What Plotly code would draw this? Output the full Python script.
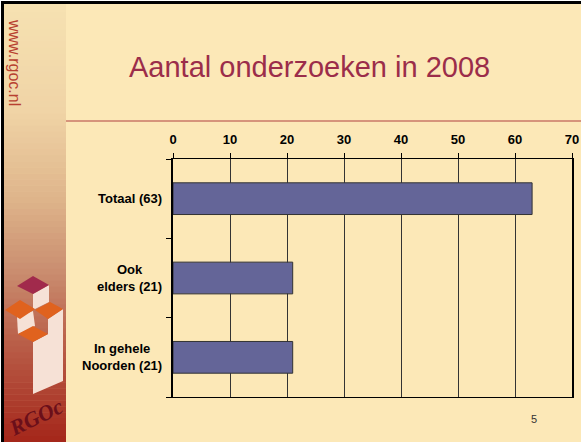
import plotly.graph_objects as go

# ---- data ----
categories = ["Totaal (63)", "Ook elders (21)", "In gehele Noorden (21)"]
labels = ["Totaal (63)", "Ook<br>elders (21)", "In gehele<br>Noorden (21)"]
values = [63, 21, 21]
x_ticks = [0, 10, 20, 30, 40, 50, 60, 70]
title_text = "Aantal onderzoeken in 2008"

W, H = 581, 442
L, R, T, B = 173, 572, 159, 397


def px(x):
    return (x - L) / (R - L)


def py(y):
    return (B - y) / (B - T)


def path(points):
    s = "M " + " L ".join(f"{px(a):.5f},{py(b):.5f}" for a, b in points) + " Z"
    return s


fig = go.Figure()
fig.add_trace(go.Bar(
    y=categories, x=values, orientation="h", width=0.4,
    marker=dict(color="#646598", line=dict(color="#333333", width=1)),
    hoverinfo="x+y",
))

shapes = []
stops = [(0, (246, 226, 178)), (110, (240, 212, 166)), (200, (222, 180, 138)),
         (270, (202, 142, 112)), (340, (186, 96, 74)), (442, (164, 38, 26))]


def col_at(y):
    for (y0, c0), (y1, c1) in zip(stops[:-1], stops[1:]):
        if y0 <= y <= y1:
            t = (y - y0) / (y1 - y0)
            return "rgb(%d,%d,%d)" % tuple(round(a + (b - a) * t) for a, b in zip(c0, c1))
    return "rgb(%d,%d,%d)" % stops[-1][1]


n = 74
step = H / n
for i in range(n):
    y0 = i * step
    y1 = (i + 1) * step + 0.6
    shapes.append(dict(type="rect", xref="paper", yref="paper",
                       x0=px(4), x1=px(66), y0=py(y0), y1=py(min(y1, H)),
                       fillcolor=col_at(y0 + step / 2), line=dict(width=0), layer="above"))
# frame
shapes.append(dict(type="rect", xref="paper", yref="paper", x0=px(0), x1=px(1), y0=py(0), y1=py(H),
                   fillcolor="white", line=dict(width=0)))
shapes.append(dict(type="rect", xref="paper", yref="paper", x0=px(0), x1=px(W), y0=py(0), y1=py(1),
                   fillcolor="white", line=dict(width=0)))
shapes.append(dict(type="rect", xref="paper", yref="paper", x0=px(1), x1=px(4), y0=py(1), y1=py(H),
                   fillcolor="black", line=dict(width=0)))
shapes.append(dict(type="rect", xref="paper", yref="paper", x0=px(1), x1=px(W), y0=py(1), y1=py(4),
                   fillcolor="black", line=dict(width=0)))
# red rule under title
shapes.append(dict(type="line", xref="paper", yref="paper", x0=px(66), x1=px(W), y0=py(121), y1=py(121),
                   line=dict(color="#b04040", width=1)))

# logo
pale = "#f6e1d6"
orange = "#e0621e"
maroon = "#a12a4c"
logo = [
    ([(33, 294), (49, 285), (49, 302), (35, 309), (33, 309)], pale),
    ([(17, 317), (33, 311), (35, 326), (18, 334)], pale),
    ([(33, 342), (48, 334), (48, 319), (63, 309), (63, 381), (33, 394)], pale),
    ([(17, 286), (33, 276), (49, 285), (33, 294)], maroon),
    ([(5, 310), (20, 300), (35, 309), (20, 319)], orange),
    ([(35, 310), (50, 302), (63, 309), (48, 319)], orange),
    ([(18, 334), (33, 326), (48, 334), (33, 342)], orange),
]
for pts, c in logo:
    shapes.append(dict(type="path", xref="paper", yref="paper", path=path(pts),
                       fillcolor=c, line=dict(width=0)))

annotations = []
for cat, lab in zip(categories, labels):
    annotations.append(dict(text=lab, xref="paper", yref="y", x=px(164), y=cat,
                            xanchor="right", yanchor="middle", align="center", showarrow=False,
                            font=dict(family="Arial, Liberation Sans", size=13, color="black", weight="bold")))
annotations.append(dict(text=title_text, xref="paper", yref="paper", x=px(309), y=py(67),
                        xanchor="center", yanchor="middle", showarrow=False,
                        font=dict(family="Arial, Liberation Sans", size=29, color="#9b2d4a")))
annotations.append(dict(text="www.rgoc.nl", xref="paper", yref="paper", x=px(14), y=py(62),
                        xanchor="center", yanchor="middle", textangle=90, showarrow=False,
                        font=dict(family="Arial, Liberation Sans", size=16, color="#b84030")))
annotations.append(dict(text="RGOc", xref="paper", yref="paper", x=px(35), y=py(417),
                        xanchor="center", yanchor="middle", textangle=-26, showarrow=False,
                        font=dict(family="Liberation Serif, DejaVu Serif", size=22, color="#6b0f1a",
                                  style="italic", weight="bold")))
annotations.append(dict(text="5", xref="paper", yref="paper", x=px(534), y=py(419),
                        xanchor="center", yanchor="middle", showarrow=False,
                        font=dict(family="Arial, Liberation Sans", size=11, color="#333333")))

fig.update_layout(
    width=W, height=H,
    margin=dict(l=L, r=W - R, t=T, b=H - B, pad=0, autoexpand=False),
    paper_bgcolor="#fce8b7",
    plot_bgcolor="#fce8b7",
    showlegend=False,
    shapes=shapes,
    annotations=annotations,
    xaxis=dict(side="top", range=[0, 70], tickvals=x_ticks, ticktext=[str(v) for v in x_ticks],
               showgrid=True, gridcolor="#333333", gridwidth=1, zeroline=False,
               showline=True, linecolor="black", linewidth=1, mirror=True,
               ticks="outside", ticklen=5, tickcolor="black", ticklabelstandoff=4,
               tickfont=dict(family="Arial, Liberation Sans", size=13, color="black", weight="bold"),
               automargin=False, fixedrange=True),
    yaxis=dict(categoryorder="array", categoryarray=categories[::-1],
               showticklabels=False, showgrid=False, zeroline=False,
               showline=True, linecolor="black", linewidth=2, mirror=True,
               ticks="outside", tickson="boundaries", ticklen=5, tickcolor="black",
               automargin=False, fixedrange=True),
)

fig.write_html("out.html", config={"displayModeBar": False},
               post_script="document.body.style.margin='0';document.body.style.overflow='hidden';")
